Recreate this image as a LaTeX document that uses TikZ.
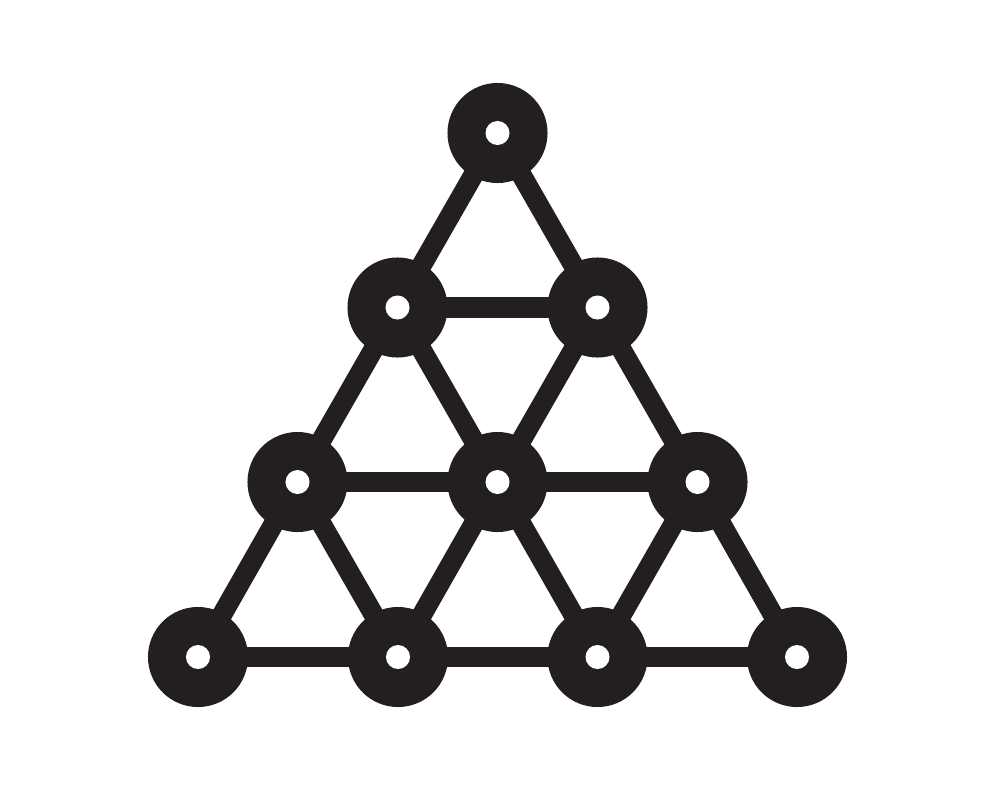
\documentclass[tikz,border=0pt]{standalone}
\definecolor{ink}{HTML}{231F20}
\tikzset{
  pt/.style={circle,fill=ink,minimum size=1cm,inner sep=0pt},
  edge/.style={draw=ink,line width=0.2cm},
  hole/.style={circle,fill=white,minimum size=0.24cm,inner sep=0pt}
}
\begin{document}
\begin{tikzpicture}[x=0.01cm,y=-0.01cm]
\useasboundingbox (0,0) rectangle (1000,800);
\coordinate (a) at (497.5,133);
\coordinate (b1) at (397.5,307.5);
\coordinate (b2) at (597.5,307.5);
\coordinate (c1) at (297.5,482);
\coordinate (c2) at (497.5,482);
\coordinate (c3) at (697.5,482);
\coordinate (d1) at (198,657);
\coordinate (d2) at (398,657);
\coordinate (d3) at (597.5,657);
\coordinate (d4) at (797,657);
\foreach \u/\v in {a/b1,a/b2,b1/b2,b1/c1,b1/c2,b2/c2,b2/c3,c1/c2,c2/c3,c1/d1,c1/d2,c2/d2,c2/d3,c3/d3,c3/d4,d1/d2,d2/d3,d3/d4}
  \draw[edge] (\u) -- (\v);
\foreach \n in {a,b1,b2,c1,c2,c3,d1,d2,d3,d4}{
  \node[pt] (n\n) at (\n) {};
  \node[hole] (h\n) at (\n) {};
}
\end{tikzpicture}
\end{document}
